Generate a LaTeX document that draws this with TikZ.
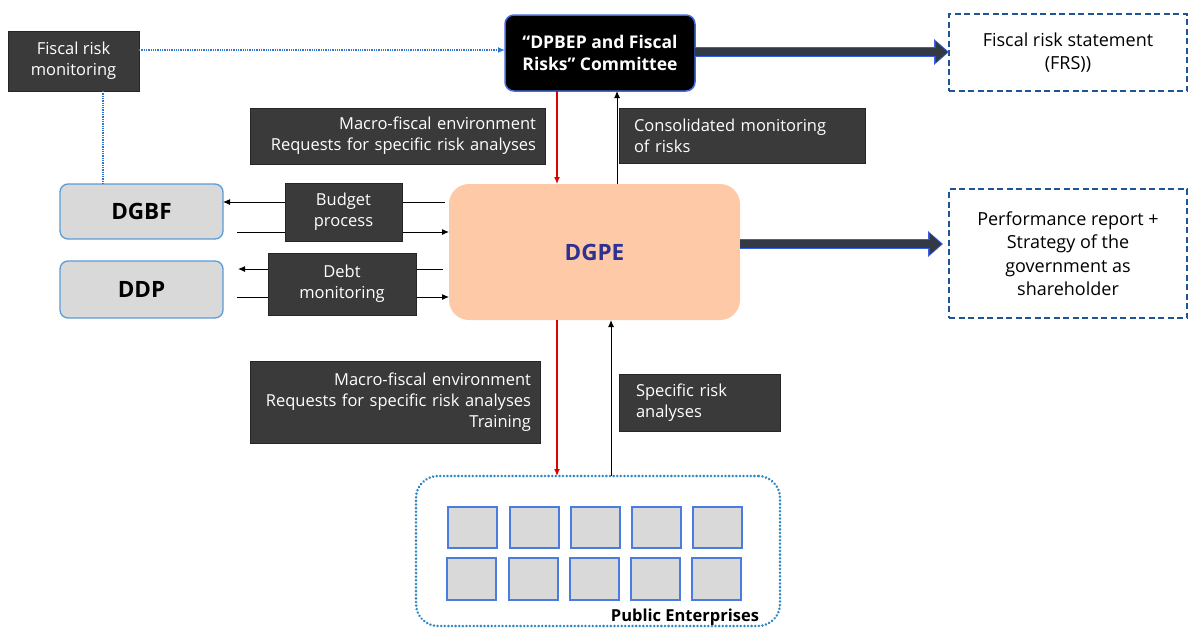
\documentclass[tikz,border=0pt]{standalone}
\usepackage{fontspec}
\setmainfont{Open Sans}
\usetikzlibrary{arrows.meta,calc}
\definecolor{boxdark}{HTML}{3A3A3A}
\definecolor{bluebord}{HTML}{5B9BD5}
\definecolor{bluedash}{HTML}{1F5597}
\definecolor{peach}{HTML}{FDC9A6}
\definecolor{dgpetext}{HTML}{2E3192}
\definecolor{pegray}{HTML}{D9D9D9}
\definecolor{pedot}{HTML}{2E86C1}
\definecolor{thickarr}{HTML}{333A45}
\definecolor{redline}{HTML}{E00000}
\definecolor{dotblue}{HTML}{2E75D6}
\tikzset{
  x=1pt, y=-1pt,
  every node/.style={inner sep=0pt, outer sep=0pt},
  dbox/.style={draw=black!85, line width=1pt, fill=boxdark, text=white, anchor=north west,
    font=\fontsize{16.5}{21}\selectfont},
  gbox/.style={draw=bluebord, line width=1.3pt, fill=pegray, rounded corners=8pt, anchor=north west,
    font=\fontsize{22.5}{24}\selectfont\bfseries, minimum width=163, minimum height=55},
  outbox/.style={draw=bluedash, line width=2.2pt, dash pattern=on 6pt off 3.5pt, anchor=north west,
    align=center, font=\fontsize{18}{23.5}\selectfont},
  sq/.style={draw=bluebord!80!blue, line width=1.3pt, fill=pegray, anchor=north west,
    minimum width=49, minimum height=41},
  arr/.style={line width=1pt, -{Latex[length=7pt,width=6pt]}},
  redarr/.style={draw=redline, line width=1.2pt, -{Latex[length=7pt,width=6pt]}},
  dotline/.style={draw=dotblue, line width=1.3pt, dash pattern=on 1.3pt off 1pt},
  bigarrout/.style={draw=bluebord!60!blue, line width=10pt, -{Triangle[length=15pt,width=25pt]}},
  bigarr/.style={draw=thickarr, line width=7.5pt, -{Triangle[length=12pt,width=21pt]}},
}
\begin{document}
\begin{tikzpicture}
\useasboundingbox (0,0) rectangle (1188,627);
% main nodes
\node[dbox, minimum width=131, minimum height=60, align=center] (frm) at (8,31) {Fiscal risk\\monitoring};
\node[draw=bluebord!70!blue, line width=1.5pt, fill=black, rounded corners=9pt, anchor=north west,
  minimum width=190, minimum height=76, align=center, text=white,
  font=\fontsize{17.5}{21.5}\selectfont\bfseries] (com) at (505,15) {“DPBEP and Fiscal\\Risks” Committee};
\node[outbox, minimum width=238, minimum height=77] (frs) at (949,14) {Fiscal risk statement\\(FRS))};
\node[outbox, minimum width=238, minimum height=129] (perf) at (949,189) {Performance report +\\Strategy of the\\government as\\shareholder};
\node[fill=peach, rounded corners=20pt, anchor=north west, minimum width=291, minimum height=136,
  text=dgpetext, font=\fontsize{22.5}{24}\selectfont\bfseries] (dgpe) at (449,184) {DGPE};
\node[gbox] (dgbf) at (60,184) {DGBF};
\node[gbox, minimum height=57] (ddp) at (60,261) {DDP};
% public enterprises
\node[draw=pedot, line width=2.8pt, dash pattern=on 0.01pt off 3.6pt, line cap=round, rounded corners=22pt,
  anchor=north west, minimum width=364, minimum height=150] (pe) at (416,476) {};
\foreach \i/\x in {1/448,2/510,3/571,4/632,5/693}{
  \node[sq] (sa\i) at (\x,507) {};
  \node[sq, minimum height=42] (sb\i) at (\x-1,558) {};
}
\node[anchor=south east, font=\fontsize{16.5}{18}\selectfont\bfseries] (pelab) at (759,625) {Public Enterprises};

% connectors
\draw[dotline] (frm.south -| 103,0) -- (dgbf.north -| 103,0);
\draw[dotline, -{Latex[length=7pt,width=6pt]}] (frm.east |- 0,50) -- (com.west |- 0,50);
\draw[bigarrout] (com.east |- 0,52) -- (frs.west |- 0,52);
\draw[bigarr] (com.east |- 0,52) -- ([xshift=-1.5pt]frs.west |- 0,52);
\draw[bigarrout] (dgpe.east |- 0,244) -- ([xshift=-6pt]perf.west |- 0,244);
\draw[bigarr] (dgpe.east |- 0,244) -- ([xshift=-7.5pt]perf.west |- 0,244);
\draw[redarr] (com.south -| 557,0) -- (dgpe.north -| 557,0);
\draw[arr] (dgpe.north -| 617,0) -- (com.south -| 617,0);
\draw[redarr] (dgpe.south -| 557,0) -- (pe.north -| 557,0);
\draw[arr] (pe.north -| 611,0) -- (dgpe.south -| 611,0);
\coordinate (b1) at (445,202);
\coordinate (b2) at (237,232);
\coordinate (d1) at (443,269);
\coordinate (d2) at (237,297);
\coordinate (d1e) at (238,269);
\draw[arr] (b1) -- (dgbf.east |- b1);
\draw[arr] (b2) -- (dgpe.west |- b2);
\draw[arr] (d1) -- (d1e);
\draw[arr] (d2) -- (dgpe.west |- d2);

% labels on connectors
\node[dbox, text width=277, align=right, inner xsep=9pt, minimum height=56] (mf1) at (250,108)
  {Macro-fiscal environment\\Requests for specific risk analyses};
\node[dbox, text width=216, align=left, inner xsep=15pt, minimum height=55] (cons) at (619,108)
  {Consolidated monitoring\\of risks};
\node[dbox, minimum width=117, minimum height=58, align=center] (bud) at (285,183) {Budget\\process};
\node[dbox, minimum width=148, minimum height=62, align=center] (debt) at (268,253) {Debt\\monitoring};
\node[dbox, text width=272, align=right, inner xsep=9pt, minimum height=82] (mf2) at (250,361)
  {Macro-fiscal environment\\Requests for specific risk analyses\\Training};
\node[dbox, text width=127, align=left, inner xsep=17pt, minimum height=57] (sra) at (619,374)
  {Specific risk\\analyses};
\end{tikzpicture}
\end{document}
